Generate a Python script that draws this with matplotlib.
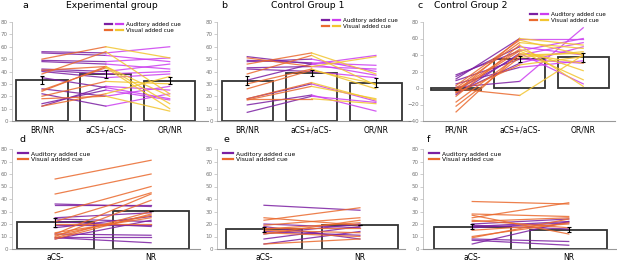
import numpy as np
import matplotlib
matplotlib.use("Agg")
import matplotlib.pyplot as plt
from matplotlib.lines import Line2D
from matplotlib.legend_handler import HandlerTuple

# =========================================
# DATA
# =========================================

# top row: three conditions per subject
a_labels = ["BR/NR", "aCS+/aCS-", "OR/NR"]
a_bars = [33, 38, 32.5]
a_err = [3.5, 3, 3]
a_aud = [(56, 55, 60), (55, 53, 48), (49, 48, 51), (48, 46, 42), (42, 40, 46),
         (41, 38, 40), (40, 35, 38), (35, 27, 18), (26, 20, 28), (22, 12, 22),
         (14, 25, 17), (12, 28, 25)]
a_vis = [(50, 60, 51), (41, 44, 20), (38, 56, 22), (25, 43, 10), (24, 44, 14),
         (20, 32, 30), (18, 20, 8), (12, 22, 36)]

b_labels = ["BR/NR", "aCS+/aCS-", "OR/NR"]
b_bars = [32.5, 39, 31]
b_err = [3.5, 2.5, 3.5]
b_aud = [(52, 46, 53), (49, 47, 45), (48, 50, 40), (43, 44, 42), (42, 40, 35),
         (33, 46, 37), (18, 30, 16), (13, 21, 8), (7, 20, 15)]
b_vis = [(51, 44, 52), (46, 55, 38), (38, 53, 29), (30, 42, 26), (26, 41, 30),
         (18, 31, 17), (18, 18, 14), (17, 28, 18)]

c_labels = ["PR/NR", "aCS+/aCS-", "OR/NR"]
c_bars = [-2, 35, 37]
c_err = [1, 4, 5]
c_aud = [(16, 45, 60), (14, 50, 40), (11, 60, 60), (9, 35, 30), (5, 25, 33),
         (1, 8, 73), (-3, 40, 55), (-6, 30, 50), (-8, 42, 5)]
c_vis = [(3, 58, 40), (0, 55, 48), (-2, 47, 21), (-4, 45, 10), (-6, 28, 38),
         (-10, 52, 2), (-17, 40, 42), (-22, 37, 44), (-29, 42, 30), (-1, -9, 40),
         (-5, 60, 52)]

# bottom row: two conditions per subject
d_labels = ["aCS-", "NR"]
d_bars = [21.5, 30.5]
d_err = [3.5, 0]
d_aud = [(36, 34), (35, 35), (25, 29), (24, 22), (22, 18), (19, 19), (17, 26),
         (12, 11), (10, 10), (9, 5), (8, 23)]
d_vis = [(56, 71), (44, 60), (29, 50), (22, 45), (12, 44), (10, 39), (9, 30),
         (8, 28), (11, 27), (13, 25), (20, 20)]

e_labels = ["aCS-", "NR"]
e_bars = [16, 19]
e_err = [2, 0]
e_aud = [(35, 31), (20, 17), (18, 8), (14, 11), (12, 20), (8, 18), (4, 14)]
e_vis = [(25, 19), (23, 33), (19, 25), (16, 21), (15, 13), (13, 10), (12, 23),
         (4, 8), (17, 17)]

f_labels = ["aCS-", "NR"]
f_bars = [18, 15.5]
f_err = [2, 2]
f_aud = [(20, 24), (18, 22), (17, 21), (8, 6), (7, 3), (4, 22), (19, 16)]
f_vis = [(38, 36), (28, 26), (27, 12), (25, 37), (23, 17), (22, 25), (15, 20),
         (10, 21), (9, 24)]

# =========================================
# STYLE
# =========================================

AUD1 = "#7b1fa2"
AUD2 = "#cc3ef0"
VIS1 = "#ea6a2e"
VIS2 = "#f2c530"
EDGE = "#333333"
GRAY = "#777777"

W = 617.0
H = 262.0

fig = plt.figure(figsize=(W / 100, H / 100), dpi=100)


def style_axes(ax, ylim, yticks, labels, xlim):
    ax.set_ylim(*ylim)
    ax.set_yticks(yticks)
    ax.set_xlim(*xlim)
    ax.set_xticks(range(len(labels)))
    ax.set_xticklabels(labels, fontsize=5.5)
    for s in ["top", "right"]:
        ax.spines[s].set_visible(False)
    ax.spines["left"].set_color("#bbbbbb")
    ax.spines["left"].set_linewidth(0.6)
    ax.spines["bottom"].set_color("#999999")
    ax.spines["bottom"].set_linewidth(0.8)
    ax.tick_params(axis="y", labelsize=4, colors="#bbbbbb", labelcolor=GRAY,
                   length=2, width=0.5, pad=1)
    ax.tick_params(axis="x", length=0, pad=3)


def draw_panel(ax, labels, bars, err, aud, vis, two_colour):
    x = np.arange(len(labels))
    ax.bar(x, bars, width=0.8, color="white", edgecolor=EDGE, linewidth=1.3, zorder=1)
    for grp, c1, c2 in [(aud, AUD1, AUD2), (vis, VIS1, VIS2)]:
        for row in grp:
            ax.plot(x[:2], row[:2], color=c1, lw=0.9, alpha=0.85, zorder=2)
            if len(row) > 2:
                ax.plot(x[1:], row[1:], color=c2 if two_colour else c1,
                        lw=0.9, alpha=0.85, zorder=2)
    ax.errorbar(x, bars, yerr=err, fmt="none", ecolor="black", elinewidth=0.8,
                capsize=1.5, capthick=0.8, zorder=3)


def top_legend(ax, anchor_px):
    h_aud = (Line2D([], [], color=AUD1, lw=1.6), Line2D([], [], color=AUD2, lw=1.6))
    h_vis = (Line2D([], [], color=VIS1, lw=1.6), Line2D([], [], color=VIS2, lw=1.6))
    ax.legend([h_aud, h_vis], ["Auditory added cue", "Visual added cue"],
              handler_map={tuple: HandlerTuple(ndivide=None, pad=0.6)},
              loc="upper left",
              bbox_to_anchor=(anchor_px[0] / W, 1 - anchor_px[1] / H),
              bbox_transform=fig.transFigure, frameon=False,
              fontsize=4.1, handlelength=3.2, handletextpad=0.5,
              labelspacing=0.1, borderaxespad=0, borderpad=0)


def bottom_legend(ax):
    h = [Line2D([], [], color=AUD1, lw=1.6), Line2D([], [], color=VIS1, lw=1.6)]
    ax.legend(h, ["Auditory added cue", "Visual added cue"], loc="upper left",
              bbox_to_anchor=(0.02, 1.0), frameon=False, fontsize=4.3,
              handlelength=1.6, handletextpad=0.6, labelspacing=0.1,
              borderaxespad=0)


# ---- top row ----
top = [
    ("a", "Experimental group", a_labels, a_bars, a_err, a_aud, a_vis,
     (12, 208), (-0.47, 2.6), (0, 80), range(0, 81, 10), (105, 22), 22, 112),
    ("b", "Control Group 1", b_labels, b_bars, b_err, b_aud, b_vis,
     (217, 410), (-0.47, 2.53), (0, 80), range(0, 81, 10), (322, 18), 221, 308),
    ("c", "Control Group 2", c_labels, c_bars, c_err, c_aud, c_vis,
     (423, 615), (-0.52, 2.5), (-40, 80), range(-40, 81, 20), (530, 12), 417, 471),
]
for (letter, title, labels, bars, err, aud, vis, px, xl, yl, yt, leg,
     let_x, tit_x) in top:
    ax = fig.add_axes([px[0] / W, 1 - 121 / H, (px[1] - px[0]) / W, 99 / H])
    draw_panel(ax, labels, bars, err, aud, vis, True)
    style_axes(ax, yl, yt, labels, xl)
    top_legend(ax, leg)
    fig.text(let_x / W, 1 - 5 / H, letter, fontsize=6.8, va="center")
    fig.text(tit_x / W, 1 - 6 / H, title, fontsize=6.7,
             ha="center", va="center")

# ---- bottom row ----
bottom = [
    ("d", d_labels, d_bars, d_err, d_aud, d_vis, (12, 200), (-0.45, 1.51), 20),
    ("e", e_labels, e_bars, e_err, e_aud, e_vis, (217, 405), (-0.49, 1.47), 224),
    ("f", f_labels, f_bars, f_err, f_aud, f_vis, (423, 617), (-0.51, 1.5), 427),
]
for letter, labels, bars, err, aud, vis, px, xl, let_x in bottom:
    ax = fig.add_axes([px[0] / W, 1 - 249 / H, (px[1] - px[0]) / W, 100 / H])
    draw_panel(ax, labels, bars, err, aud, vis, False)
    style_axes(ax, (0, 80), range(0, 81, 10), labels, xl)
    bottom_legend(ax)
    fig.text(let_x / W, 1 - 139 / H, letter, fontsize=6.8, va="center")

fig.savefig("out.png", dpi=100)
